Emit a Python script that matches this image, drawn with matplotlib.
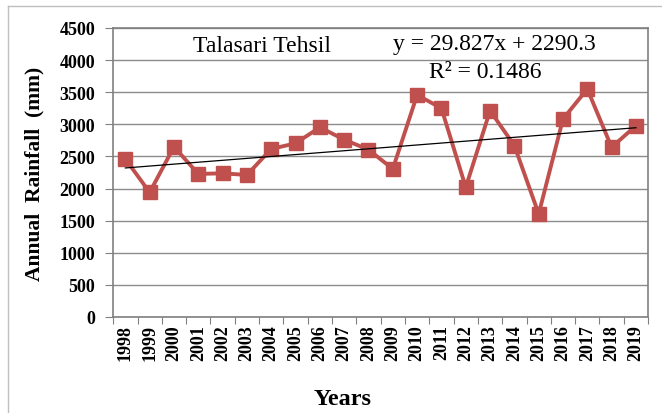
import numpy as np
import matplotlib.pyplot as plt
from matplotlib.lines import Line2D

plt.rcParams['font.family'] = ['Liberation Serif', 'DejaVu Serif']

years = ['1998', '1999', '2000', '2001', '2002', '2003', '2004', '2005',
         '2006', '2007', '2008', '2009', '2010', '2011', '2012', '2013',
         '2014', '2015', '2016', '2017', '2018', '2019']
rainfall = [2460, 1940, 2650, 2227, 2237, 2211, 2616, 2704,
            2953, 2761, 2605, 2305, 3457, 3250, 2019, 3213,
            2668, 1604, 3083, 3550, 2642, 2979]
yticks = [0, 500, 1000, 1500, 2000, 2500, 3000, 3500, 4000, 4500]

x = np.arange(1, len(years) + 1)
slope, intercept = 29.827, 2290.3

fig = plt.figure(figsize=(6.62, 4.14), dpi=100)
ax = fig.add_axes([0.171, 0.232, 0.808, 0.698])

ax.plot(x, rainfall, color='#C0504D', lw=2.8, marker='s', ms=10, zorder=3)
ax.plot(x, slope * x + intercept, color='black', lw=0.9, zorder=4)

ax.set_xlim(0.5, len(years) + 0.5)
ax.set_ylim(0, 4500)
ax.set_yticks(yticks)
ax.set_yticklabels([str(v) for v in yticks], fontweight='bold', fontsize=13)
ax.set_xticks(np.arange(0.5, len(years) + 1, 1))
ax.set_xticklabels([])
ax.set_xticks(x, minor=True)
ax.set_xticklabels(years, minor=True, rotation=90, fontweight='bold', fontsize=13)
ax.tick_params(axis='x', which='minor', length=0, pad=5)
ax.tick_params(axis='x', which='major', length=5, color='#808080', direction='out')
ax.tick_params(axis='y', length=6, color='#808080', direction='out', pad=7)

ax.grid(axis='y', color='#8C8C8C', lw=1)
ax.set_axisbelow(True)
for s in ax.spines.values():
    s.set_color('#808080')
    s.set_linewidth(1.2)

ax.set_ylabel('Annual  Rainfall  (mm)', fontweight='bold', fontsize=15.5)
ax.yaxis.set_label_coords(-0.129, 0.497)
fig.text(343 / 662, 14 / 414, 'Years', ha='center', va='center',
         fontweight='bold', fontsize=17.5)

ax.text(0.2785, 0.938, 'Talasari Tehsil', transform=ax.transAxes,
        ha='center', va='center', fontsize=17)
ax.text(0.712, 0.945, 'y = 29.827x + 2290.3', transform=ax.transAxes,
        ha='center', va='center', fontsize=17)
ax.text(0.695, 0.851, 'R² = 0.1486', transform=ax.transAxes,
        ha='center', va='center', fontsize=17)

# outer chart frame (left and top edges visible)
fig.add_artist(Line2D([8 / 662, 8 / 662], [0, 1 - 7 / 414],
                      transform=fig.transFigure, color='#BFBFBF', lw=1))
fig.add_artist(Line2D([8 / 662, 1], [1 - 7 / 414, 1 - 7 / 414],
                      transform=fig.transFigure, color='#BFBFBF', lw=1))

fig.savefig('out.png', dpi=100)
